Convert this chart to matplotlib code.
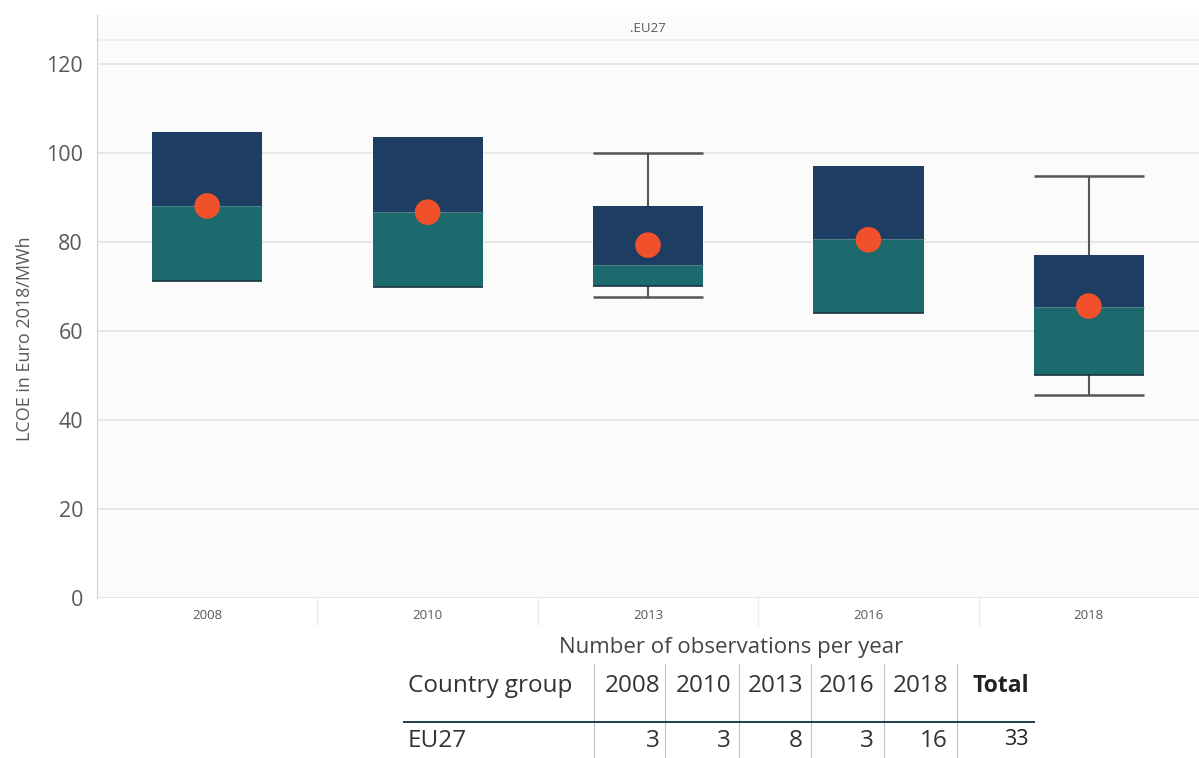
import numpy as np
import matplotlib

matplotlib.use("Agg")
import matplotlib.pyplot as plt
from matplotlib.lines import Line2D

# values (LCOE, Euro 2018/MWh)
years = ["2008", "2010", "2013", "2016", "2018"]
whisker_lo = [71.3, 69.9, 67.6, 64.0, 45.6]
q1 = [71.3, 69.9, 70.1, 64.0, 50.1]
median = [88.1, 86.7, 74.8, 80.7, 65.4]
q3 = [104.7, 103.6, 88.1, 97.1, 77.1]
whisker_hi = [104.7, 103.6, 100.0, 97.1, 94.8]
mean = [88.1, 86.7, 79.3, 80.5, 65.6]

group = "EU27"
obs_counts = [3, 3, 8, 3, 16]
obs_total = 33

NAVY = "#1d3d63"
TEAL = "#1c6a6e"
DOT = "#f0502a"
GRID = "#e3e3e3"
TXT = "#595959"

plt.rcParams["font.family"] = ["Open Sans", "DejaVu Sans"]

W, H = 1199, 758
fig = plt.figure(figsize=(W / 100, H / 100), dpi=100, facecolor="white")


def fx(px):
    return px / W


def fy(py):
    return 1 - py / H


# axes spans pixel x 97..1199, y 15..598 ; 4.45 px per unit
ax = fig.add_axes([fx(97), fy(598), 1 - fx(97), fy(15) - fy(598)])
ax.set_facecolor("#fbfbfb")
ymax = (598 - 15) / 4.45
ax.set_ylim(0, ymax)
x = np.arange(len(years))
ax.set_xlim(-0.5, len(years) - 0.5)

for s in ("top", "right", "bottom"):
    ax.spines[s].set_visible(False)
ax.spines["left"].set_color("#d0d0d0")

ax.set_yticks(np.arange(0, 121, 20))
ax.yaxis.grid(True, color=GRID, lw=1.2)
ax.set_axisbelow(True)
ax.tick_params(axis="y", length=0, labelsize=15.5, labelcolor=TXT, pad=10)
ax.set_xticks(x)
ax.set_xticklabels(years)
ax.tick_params(axis="x", length=0, labelsize=9.5, labelcolor=TXT, pad=8)
ax.set_ylabel("LCOE in Euro 2018/MWh", fontsize=13, color=TXT)
ax.yaxis.set_label_coords(-0.057, (598 - 339) / 583)

# facet header
strip_y = (598 - 40) / 4.45
ax.axhline(strip_y, color="#eeeeee", lw=1.2)
ax.text(len(years) / 2 - 0.5, (598 - 28) / 4.45, "." + group, ha="center",
        va="center", fontsize=9.5, color=TXT)

bw = 0.5
lo = np.array(q1)
md = np.array(median)
hi = np.array(q3)
ax.bar(x, md - lo, bottom=lo, width=bw, color=TEAL, zorder=3)
ax.bar(x, hi - md, bottom=md, width=bw, color=NAVY, zorder=3)
ax.hlines(md, x - bw / 2, x + bw / 2, color="#4d7f86", lw=0.8, zorder=4)
ax.hlines(lo, x - bw / 2, x + bw / 2, color="#1a3340", lw=1.2, zorder=4)
for i in range(len(years)):
    if whisker_hi[i] > q3[i]:
        ax.vlines(x[i], q3[i], whisker_hi[i], color="#555555", lw=1.5, zorder=2)
        ax.hlines(whisker_hi[i], x[i] - bw / 2, x[i] + bw / 2, color="#555555",
                  lw=1.8, zorder=2)
    if whisker_lo[i] < q1[i]:
        ax.vlines(x[i], whisker_lo[i], q1[i], color="#555555", lw=1.5, zorder=2)
        ax.hlines(whisker_lo[i], x[i] - bw / 2, x[i] + bw / 2, color="#555555",
                  lw=1.8, zorder=2)
ax.scatter(x, mean, s=340, color=DOT, zorder=5, edgecolors="none")

# category separators under the axis
for k in range(1, len(years)):
    ax.add_line(Line2D([k - 0.5, k - 0.5], [0, -6], color="#ececec", lw=1,
                       clip_on=False))
ax.axhline(0, color="#e6e6e6", lw=1.2)

# observations table
fig.text(fx(731), fy(647), "Number of observations per year", ha="center",
         va="center", fontsize=16, color="#444444")
hdr_y, row_y = fy(686), fy(741)
TS = 17.5
fig.text(fx(408), hdr_y, "Country group", ha="left", va="center",
         fontsize=TS, color="#333333")
fig.text(fx(408), row_y, group, ha="left", va="center", fontsize=TS,
         color="#333333")
col_right = [660, 731, 803, 874, 948]
for xr, yr, n in zip(col_right, years, obs_counts):
    fig.text(fx(xr), hdr_y, yr, ha="right", va="center", fontsize=TS,
             color="#333333")
    fig.text(fx(xr), row_y, str(n), ha="right", va="center", fontsize=TS,
             color="#333333")
fig.text(fx(1029), hdr_y, "Total", ha="right", va="center", fontsize=TS - 1,
         color="#222222", fontweight="bold")
fig.text(fx(1029), row_y + 0.002, str(obs_total), ha="right", va="center",
         fontsize=TS - 2, color="#222222")
for sx in [594, 665, 739, 811, 884, 957]:
    fig.add_artist(Line2D([fx(sx), fx(sx)], [fy(664), fy(758)],
                          color="#b8c4cc", lw=0.8))
fig.add_artist(Line2D([fx(404), fx(1034)], [fy(722), fy(722)],
                      color="#1d3d50", lw=1.4))

fig.savefig("out.png", dpi=100, facecolor="white")
